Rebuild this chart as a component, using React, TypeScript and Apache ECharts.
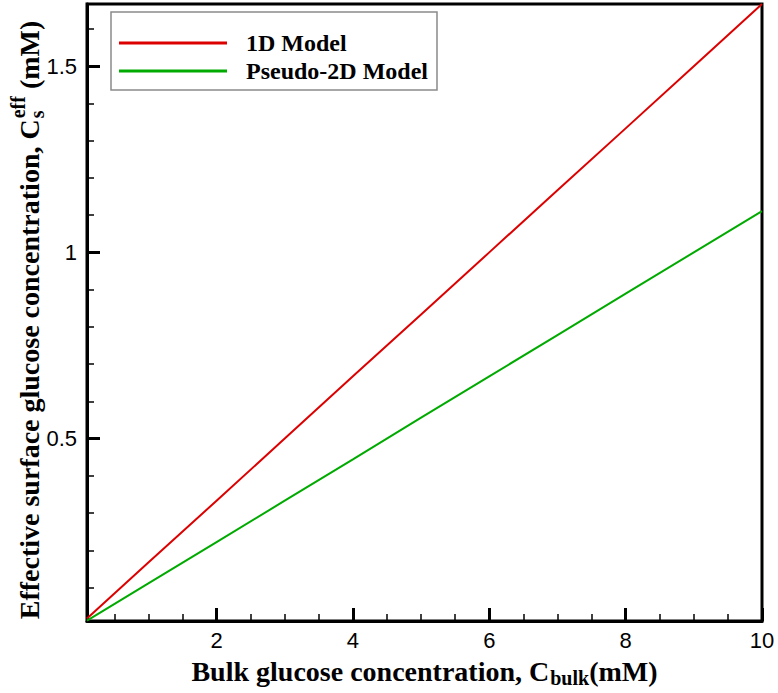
import React, { useEffect, useRef } from "react";
import * as echarts from "echarts";

// Bulk glucose concentration (mM)
const bulk = [0.1, 1, 2, 3, 4, 5, 6, 7, 8, 9, 10];
// Effective surface glucose concentration (mM)
const model1D = [0.017, 0.167, 0.333, 0.5, 0.667, 0.833, 1.0, 1.167, 1.333, 1.5, 1.667];
const pseudo2D = [0.011, 0.111, 0.222, 0.333, 0.444, 0.556, 0.667, 0.778, 0.889, 1.0, 1.111];

const seriesNames = ["1D Model", "Pseudo-2D Model"];

const xMajor = [2, 4, 6, 8, 10];
const xMinor = [0.5, 1, 1.5, 2.5, 3, 3.5, 4.5, 5, 5.5, 6.5, 7, 7.5, 8.5, 9, 9.5];
const yMajor = [0.5, 1, 1.5];
const yMinor = [0.1, 0.2, 0.3, 0.4, 0.6, 0.7, 0.8, 0.9, 1.1, 1.2, 1.3, 1.4, 1.6];

const SERIF = '"Liberation Serif", "Times New Roman", serif';
const SANS = '"Liberation Sans", Arial, sans-serif';
const TITLE_SIZE = 28;
const SCRIPT_SIZE = 20;

function measure(text: string, size: number): number {
  const ctx = document.createElement("canvas").getContext("2d");
  if (!ctx) return text.length * size * 0.5;
  ctx.font = `bold ${size}px ${SERIF}`;
  return ctx.measureText(text).width;
}

function titleText(text: string, x: number, y: number, size: number) {
  return {
    type: "text",
    x,
    y,
    style: {
      text,
      fill: "#000",
      fontSize: size,
      fontWeight: "bold",
      fontFamily: SERIF,
      align: "left",
      verticalAlign: "middle",
    },
  };
}

export default function App() {
  const ref = useRef<HTMLDivElement>(null);

  useEffect(() => {
    if (!ref.current) return;
    const chart = echarts.init(ref.current, null, { renderer: "svg" });

    // x-axis title: "Bulk glucose concentration, C_bulk(mM)"
    const xMain = "Bulk glucose concentration, C";
    const xSub = "bulk";
    const xTail = "(mM)";
    const wxMain = measure(xMain, TITLE_SIZE);
    const wxSub = measure(xSub, SCRIPT_SIZE);
    const wxTail = measure(xTail, TITLE_SIZE);
    const xTotal = wxMain + wxSub + wxTail;
    const xStart = 424 - xTotal / 2;

    // y-axis title: "Effective surface glucose concentration, C_s^eff (mM)"
    const yMain = "Effective surface glucose concentration, C";
    const yTail = " (mM)";
    const wyMain = measure(yMain, TITLE_SIZE);
    const wyEff = measure("eff", SCRIPT_SIZE);
    const wyTail = measure(yTail, TITLE_SIZE);
    const yTotal = wyMain + wyEff + 1 + wyTail;
    const yStart = 320 + yTotal / 2;

    const minorAxisCommon = {
      type: "value",
      axisLine: { show: false },
      axisLabel: { show: false },
      splitLine: { show: false },
    };

    chart.setOption({
      animation: false,
      backgroundColor: "#fff",
      grid: {
        left: 87,
        right: 16,
        top: 4,
        bottom: 72,
        show: true,
        borderColor: "#000",
        borderWidth: 3,
        backgroundColor: "transparent",
      },
      legend: {
        orient: "vertical",
        left: 111,
        top: 12,
        data: seriesNames.map((n) => ({ name: n, icon: "rect" })),
        itemWidth: 108,
        itemHeight: 3,
        itemGap: 4,
        padding: [19, 9, 7, 8],
        borderColor: "#8a8a8a",
        borderWidth: 1.5,
        backgroundColor: "#fff",
        formatter: (name: string) => `{t|${name}}`,
        textStyle: {
          rich: {
            t: {
              fontFamily: SERIF,
              fontWeight: "bold",
              fontSize: 24,
              lineHeight: 24,
              color: "#000",
              padding: [0, 0, 0, 14],
            },
          },
        },
      },
      xAxis: [
        {
          type: "value",
          min: 0.1,
          max: 10,
          axisLine: { show: true, lineStyle: { color: "#000", width: 3 } },
          axisTick: {
            show: true,
            inside: true,
            length: 13,
            lineStyle: { color: "#000", width: 3 },
            customValues: xMajor,
          },
          axisLabel: {
            customValues: xMajor,
            color: "#000",
            fontSize: 22,
            fontFamily: SANS,
            margin: 8,
          },
          splitLine: { show: false },
        },
        {
          ...minorAxisCommon,
          min: 0.1,
          max: 10,
          position: "bottom",
          axisTick: {
            show: true,
            inside: true,
            length: 7,
            lineStyle: { color: "#000", width: 1.5 },
            customValues: xMinor,
          },
        },
      ],
      yAxis: [
        {
          type: "value",
          min: 0.01,
          max: 1.667,
          axisLine: { show: true, lineStyle: { color: "#000", width: 3 } },
          axisTick: {
            show: true,
            inside: true,
            length: 13,
            lineStyle: { color: "#000", width: 3 },
            customValues: yMajor,
          },
          axisLabel: {
            customValues: yMajor,
            color: "#000",
            fontSize: 22,
            fontFamily: SANS,
            margin: 10,
          },
          splitLine: { show: false },
        },
        {
          ...minorAxisCommon,
          min: 0.01,
          max: 1.667,
          position: "left",
          axisTick: {
            show: true,
            inside: true,
            length: 7,
            lineStyle: { color: "#000", width: 1.5 },
            customValues: yMinor,
          },
        },
      ],
      series: [
        {
          name: seriesNames[0],
          type: "line",
          data: bulk.map((x, i) => [x, model1D[i]]),
          showSymbol: false,
          lineStyle: { color: "#dd0000", width: 2 },
          itemStyle: { color: "#dd0000" },
        },
        {
          name: seriesNames[1],
          type: "line",
          data: bulk.map((x, i) => [x, pseudo2D[i]]),
          showSymbol: false,
          lineStyle: { color: "#00aa00", width: 2 },
          itemStyle: { color: "#00aa00" },
        },
      ],
      graphic: [
        {
          type: "group",
          x: xStart,
          y: 671,
          children: [
            titleText(xMain, 0, 0, TITLE_SIZE),
            titleText(xSub, wxMain + 1, 7, SCRIPT_SIZE),
            titleText(xTail, wxMain + wxSub + 1, 0, TITLE_SIZE),
          ],
        },
        {
          type: "group",
          x: 29,
          y: yStart,
          rotation: Math.PI / 2,
          children: [
            titleText(yMain, 0, 0, TITLE_SIZE),
            titleText("s", wyMain + 1, 8, SCRIPT_SIZE),
            titleText("eff", wyMain + 1, -11, SCRIPT_SIZE),
            titleText(yTail, wyMain + wyEff + 1, 0, TITLE_SIZE),
          ],
        },
      ],
    });

    return () => chart.dispose();
  }, []);

  return (
    <div
      ref={ref}
      style={{ position: "absolute", left: 0, top: 0, width: 778, height: 693 }}
    />
  );
}
